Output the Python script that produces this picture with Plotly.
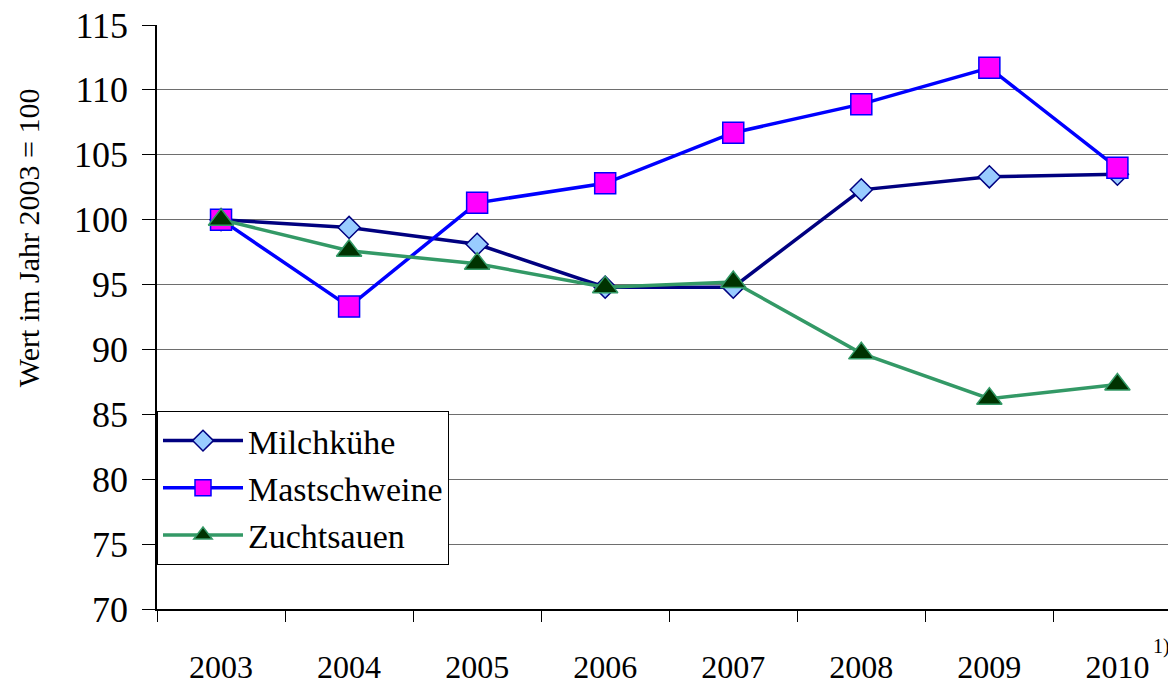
import plotly.graph_objects as go

years = ["2003", "2004", "2005", "2006", "2007", "2008", "2009", "2010"]
milchkuehe = [100.0, 99.4, 98.1, 94.8, 94.8, 102.3, 103.3, 103.5]
mastschweine = [100.0, 93.3, 101.3, 102.8, 106.7, 108.9, 111.7, 104.0]
zuchtsauen = [100.0, 97.6, 96.6, 94.8, 95.2, 89.7, 86.2, 87.3]
y_ticks = [70, 75, 80, 85, 90, 95, 100, 105, 110, 115]

FONT = "Liberation Serif, Times New Roman, serif"

fig = go.Figure()
fig.add_trace(go.Scatter(
    x=years, y=milchkuehe, name="Milchkühe", mode="lines+markers",
    legendgroup="a",
    line=dict(color="#000080", width=3.5),
    marker=dict(symbol="diamond", size=17, color="#99CCFF",
                line=dict(color="#000080", width=1.5)),
))
fig.add_trace(go.Scatter(
    x=years, y=mastschweine, name="Mastschweine", mode="lines+markers",
    legendgroup="b",
    line=dict(color="#0000FF", width=3.5),
    marker=dict(symbol="square", size=21, color="#FF00FF",
                line=dict(color="#0000FF", width=1.5)),
))
fig.add_trace(go.Scatter(
    x=years, y=zuchtsauen, name="Zuchtsauen", mode="lines+markers",
    legendgroup="c",
    line=dict(color="#339966", width=3.5),
    marker=dict(symbol="triangle-up", size=22, color="#003300",
                line=dict(color="#339966", width=1.5)),
))

fig.update_layout(
    width=1176, height=684,
    margin=dict(l=149, r=0, t=17, b=83, autoexpand=False),
    paper_bgcolor="white", plot_bgcolor="white",
    font=dict(family=FONT, color="black"),
    showlegend=True,
    legend=dict(
        x=0.0, y=0.339, xanchor="left", yanchor="top",
        bgcolor="white", bordercolor="black", borderwidth=1,
        font=dict(family=FONT, size=34, color="black"),
        tracegroupgap=0, itemwidth=80,
    ),
    xaxis=dict(
        type="category", categoryorder="array", categoryarray=years,
        range=[-0.5, 7.52], automargin=False,
        showgrid=False, zeroline=False,
        showline=True, linecolor="black", linewidth=2,
        ticks="outside", tickson="boundaries", ticklen=11, tickcolor="black", tickwidth=1,
        tickfont=dict(family=FONT, size=32, color="black"),
        ticklabelstandoff=29,
    ),
    yaxis=dict(
        range=[70, 115], tickvals=y_ticks, automargin=False,
        showgrid=True, gridcolor="#6e6e6e", gridwidth=1,
        zeroline=False,
        showline=True, linecolor="black", linewidth=1.5,
        ticks="outside", ticklen=13, tickcolor="black", tickwidth=1,
        tickfont=dict(family=FONT, size=36, color="black"),
        ticklabelstandoff=7, ticklabeloverflow="allow",
    ),
    annotations=[
        dict(text="Wert im Jahr 2003 = 100", xref="paper", yref="paper",
             x=-0.1256, y=0.635, xanchor="center", yanchor="middle",
             textangle=-90, showarrow=False,
             font=dict(family=FONT, size=30, color="black")),
        dict(text="1)", xref="paper", yref="paper",
             x=0.9883, y=-0.065, xanchor="right", yanchor="middle",
             showarrow=False,
             font=dict(family=FONT, size=20, color="black")),
    ],
)

fig.write_html("out.html")
